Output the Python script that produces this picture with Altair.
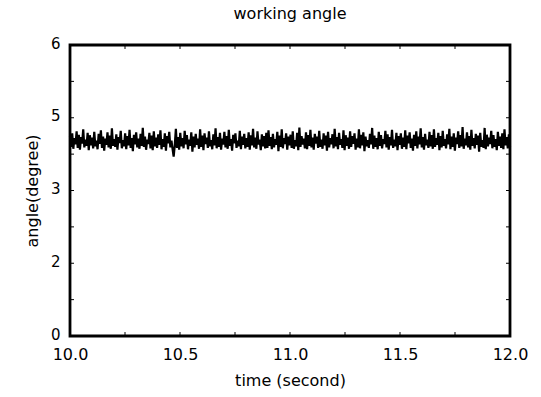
import altair as alt
import numpy as np
import pandas as pd

# Sampled working angle (degrees), 10.0 s to 12.0 s, evenly spaced samples
angle = [
    4.12, 3.90, 4.18, 3.86, 4.08, 3.95, 4.22, 3.88, 4.15, 3.84, 4.10, 3.97, 4.26, 3.89, 4.05, 3.92, 4.19, 3.83, 4.14, 3.93,
    4.09, 3.87, 4.21, 3.91, 4.03, 3.85, 4.17, 3.96, 4.24, 3.88, 4.11, 3.82, 4.07, 3.94, 4.20, 3.89, 4.13, 3.86, 4.28, 3.92,
    4.06, 3.90, 4.16, 3.84, 4.10, 3.98, 4.23, 3.87, 4.04, 3.91, 4.18, 3.85, 4.12, 3.93, 4.25, 3.88, 4.08, 3.81, 4.15, 3.95,
    4.20, 3.89, 4.07, 3.86, 4.17, 3.92, 4.29, 3.90, 4.11, 3.84, 4.05, 3.96, 4.19, 3.87, 4.13, 3.83, 4.22, 3.91, 4.09, 3.88,
    4.16, 3.94, 4.24, 3.85, 4.06, 3.90, 4.18, 3.82, 4.12, 3.97, 4.21, 3.89, 4.03, 3.86, 3.70, 3.93, 4.27, 3.88, 4.10, 3.84,
    4.19, 3.91, 4.08, 3.87, 4.23, 3.95, 4.14, 3.85, 4.05, 3.92, 4.20, 3.80, 4.11, 3.89, 4.17, 3.94, 4.07, 3.86, 4.26, 3.90,
    4.13, 3.83, 4.18, 3.96, 4.09, 3.88, 4.22, 3.91, 4.04, 3.85, 4.16, 3.93, 4.28, 3.87, 4.10, 3.90, 4.19, 3.84, 4.07, 3.95,
    4.21, 3.89, 4.12, 3.86, 4.25, 3.92, 4.06, 3.82, 4.15, 3.97, 4.18, 3.88, 4.03, 3.91, 4.23, 3.85, 4.11, 3.94, 4.17, 3.87,
    4.08, 3.90, 4.20, 3.84, 4.14, 3.93, 4.27, 3.89, 4.09, 3.86, 4.22, 3.95, 4.05, 3.83, 4.16, 3.91, 4.12, 3.87, 4.19, 3.88,
    4.24, 3.92, 4.10, 3.85, 4.17, 3.89, 4.06, 3.94, 4.21, 3.81, 4.13, 3.90, 4.26, 3.87, 4.08, 3.96, 4.18, 3.84, 4.11, 3.93,
    4.15, 3.88, 4.22, 3.86, 4.04, 3.91, 4.19, 3.83, 4.30, 3.90, 4.12, 3.95, 4.07, 3.87, 4.20, 3.85, 4.14, 3.92, 4.25, 3.89,
    4.09, 3.84, 4.17, 3.97, 4.11, 3.88, 4.23, 3.90, 4.05, 3.86, 4.18, 3.93, 4.13, 3.82, 4.21, 3.89, 4.08, 3.95, 4.16, 3.87,
    4.27, 3.91, 4.10, 3.85, 4.19, 3.94, 4.06, 3.88, 4.24, 3.83, 4.14, 3.92, 4.09, 3.86, 4.22, 3.90, 4.12, 3.96, 4.18, 3.84,
    4.07, 3.89, 4.26, 3.87, 4.15, 3.93, 4.20, 3.81, 4.11, 3.91, 4.04, 3.88, 4.17, 3.95, 4.29, 3.86, 4.13, 3.90, 4.08, 3.85,
    4.21, 3.92, 4.14, 3.87, 4.06, 3.96, 4.23, 3.89, 4.16, 3.84, 4.10, 3.93, 4.25, 3.88, 4.05, 3.91, 4.19, 3.83, 4.12, 3.94,
    4.18, 3.86, 4.09, 3.90, 4.24, 3.85, 4.13, 3.97, 4.20, 3.88, 4.07, 3.82, 4.15, 3.92, 4.22, 3.87, 4.11, 3.95, 4.28, 3.89,
    4.10, 3.84, 4.17, 3.93, 4.05, 3.88, 4.21, 3.91, 4.14, 3.86, 4.26, 3.90, 4.08, 3.94, 4.19, 3.83, 4.12, 3.89, 4.23, 3.92,
    4.06, 3.87, 4.16, 3.95, 4.27, 3.85, 4.11, 3.90, 4.18, 3.82, 4.09, 3.96, 4.22, 3.88, 4.14, 3.91, 4.31, 3.86, 4.07, 3.93,
    4.20, 3.89, 4.12, 3.84, 4.25, 3.92, 4.08, 3.87, 4.17, 3.94, 4.13, 3.80, 4.19, 3.90, 4.04, 3.88, 4.29, 3.85, 4.15, 3.91,
    4.09, 3.96, 4.23, 3.87, 4.14, 3.90, 4.06, 3.83, 4.21, 3.92, 4.11, 3.88, 4.18, 3.85, 4.26, 3.93, 4.10, 3.87, 4.16, 3.90,
]
t_start, t_end = 10.0, 12.0

x_tick_values = [10.0, 10.5, 11.0, 11.5, 12.0]
x_minor_ticks = [10.25, 10.75, 11.25, 11.75]
y_tick_values = [0, 1.5, 3, 4.5, 6]
y_tick_labels = ["0", "2", "3", "5", "6"]
y_minor_ticks = [0.75, 2.25, 3.75, 5.25]

W, H = 440, 291
FONT = "DejaVu Sans"

df = pd.DataFrame({
    "time": np.linspace(t_start, t_end, len(angle)),
    "angle": angle,
})

label_expr = " : ".join(
    f"datum.value == {v} ? '{s}'" for v, s in zip(y_tick_values, y_tick_labels)
) + " : ''"

x_scale = alt.Scale(domain=[t_start, t_end], nice=False, zero=False)
y_scale = alt.Scale(domain=[0, 6], nice=False)

line = alt.Chart(df).mark_line(color="black", strokeWidth=2.2).encode(
    x=alt.X("time:Q", scale=x_scale,
            axis=alt.Axis(values=x_tick_values, format=".1f", title="time (second)",
                          domain=False, ticks=False, grid=False, labelFlush=False,
                          labelPadding=10, titlePadding=10)),
    y=alt.Y("angle:Q", scale=y_scale,
            axis=alt.Axis(values=y_tick_values, labelExpr=label_expr, title="angle(degree)",
                          domain=False, ticks=False, grid=False, labelOffset=-2,
                          labelFontSize=15, labelPadding=10, titlePadding=10)),
)

# short inward tick marks on all four sides
xt = pd.DataFrame({"time": x_tick_values + x_minor_ticks})
yt = pd.DataFrame({"angle": y_tick_values + y_minor_ticks})

def x_ticks(y0, y1):
    return alt.Chart(xt).mark_rule(color="black", strokeWidth=1).encode(
        x=alt.X("time:Q", scale=x_scale), y=alt.value(y0), y2=alt.value(y1))

def y_ticks(x0, x1):
    return alt.Chart(yt).mark_rule(color="black", strokeWidth=1).encode(
        y=alt.Y("angle:Q", scale=y_scale), x=alt.value(x0), x2=alt.value(x1))

chart = alt.layer(
    line,
    x_ticks(H, H - 4), x_ticks(0, 4),
    y_ticks(0, 4), y_ticks(W, W - 4),
).properties(
    width=W, height=H,
    background="white",
    title=alt.Title("working angle", font=FONT, fontSize=16, fontWeight="normal",
                    color="black", anchor="middle", offset=14),
    autosize=alt.AutoSizeParams(type="none"),
    padding={"left": 70, "top": 45, "right": 31, "bottom": 61},
).configure_view(
    stroke="black", strokeWidth=2.8
).configure_axis(
    labelFont=FONT, labelFontSize=16, labelColor="black",
    titleFont=FONT, titleFontSize=16, titleFontWeight="normal", titleColor="black",
)

chart.save("out.html", embed_options={"renderer": "svg", "actions": False})
